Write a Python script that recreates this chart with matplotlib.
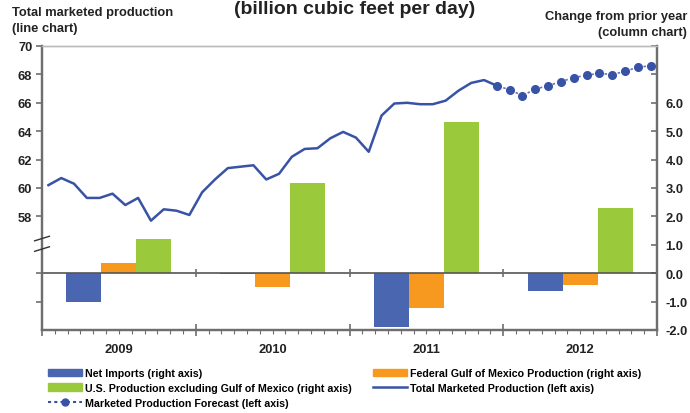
import numpy as np
import matplotlib.pyplot as plt
from matplotlib.patches import Patch
from matplotlib.lines import Line2D

plt.rcParams['font.family'] = ['Liberation Sans', 'DejaVu Sans']

years = ['2009', '2010', '2011', '2012']
net_imports = [-1.0, -0.03, -1.9, -0.64]
federal_gom = [0.35, -0.48, -1.23, -0.41]
us_ex_gom = [1.2, 3.17, 5.32, 2.28]

# monthly total marketed production, Jan 2009 - Dec 2011
total_marketed = [60.2, 60.7, 60.3, 59.3, 59.3, 59.6, 58.8, 59.3, 57.7, 58.5, 58.4, 58.1,
                  59.7, 60.6, 61.4, 61.5, 61.6, 60.6, 61.0, 62.2, 62.75, 62.8, 63.5, 63.95,
                  63.55, 62.55, 65.1, 65.95, 66.0, 65.9, 65.9, 66.15, 66.85, 67.4, 67.6, 67.2]
# forecast, Dec 2011 - Dec 2012
forecast = [67.2, 66.92, 66.5, 66.97, 67.2, 67.49, 67.77, 67.94, 68.08, 67.98, 68.22, 68.5, 68.61]

c_blue = '#4a66b0'
c_orange = '#f7991e'
c_green = '#9ac93c'
c_line = '#3852a6'
c_axis = '#6e6e6e'
c_text = '#222222'

fig = plt.figure(figsize=(6.9, 4.14), dpi=100)
ax = fig.add_axes([0.0609, 0.2005, 0.8913, 0.686])   # right axis (columns)
ax2 = ax.twinx()                                       # left axis (line)
ax2.yaxis.tick_left()
ax.yaxis.tick_right()
ax.set_zorder(1)
ax2.set_zorder(2)
ax2.patch.set_visible(False)

centers = np.arange(len(years)) * 12 + 6
w = 2.73
ax.bar(centers - w, net_imports, w, color=c_blue, zorder=3)
ax.bar(centers, federal_gom, w, color=c_orange, zorder=3)
ax.bar(centers + w, us_ex_gom, w, color=c_green, zorder=3)
ax.axhline(0, color='#555555', lw=1.2, zorder=4)
ax.vlines([12, 24, 36], -0.15, 0.15, color=c_axis, lw=1.2, zorder=4)

months = np.arange(len(total_marketed)) + 0.5
ax2.plot(months, total_marketed, color=c_line, lw=1.8)
fmonths = np.arange(len(forecast)) + 35.5
ax2.plot(fmonths, forecast, color=c_line, lw=1.2, ls=(0, (1.5, 2.5)), alpha=0.8)
ax2.plot(fmonths, forecast, 'o', color=c_line, ms=5.5)

ax.set_xlim(0, 48)
ax.set_ylim(-2, 8)
ax2.set_ylim(50, 70)

rt = np.arange(-2, 9, 1)
ax.set_yticks(rt)
ax.set_yticklabels(['%.1f' % v if v <= 6 else '' for v in rt],
                   fontsize=9.3, fontweight='bold', color=c_text)
ax.tick_params(axis='y', direction='in', length=4, color=c_axis, width=1.2, pad=6)

lt = [52, 54, 58, 60, 62, 64, 66, 68, 70]
ax2.set_yticks(lt)
ax2.set_yticklabels([str(v) if v >= 58 else '' for v in lt],
                    fontsize=9.3, fontweight='bold', color=c_text)
ax2.tick_params(axis='y', direction='out', length=4, color=c_axis, width=1.2, pad=3)

ax.set_xticks([0, 12, 24, 36, 48])
ax.set_xticklabels([])
ax.set_xticks(np.arange(0, 49, 1), minor=True)
ax.tick_params(axis='x', which='major', direction='inout', length=9, color=c_axis, width=1.2)
ax.tick_params(axis='x', which='minor', direction='out', length=3, color=c_axis, width=0.8)
for c, yr in zip(centers, years):
    ax.text(c, -0.068, yr, transform=ax.get_xaxis_transform(), ha='center', va='center',
            fontsize=9.3, fontweight='bold', color=c_text)

for a in (ax, ax2):
    for s in ('left', 'right', 'bottom'):
        a.spines[s].set_color(c_axis)
        a.spines[s].set_linewidth(1.6)
    a.spines['top'].set_color('#bbbbbb')
    a.spines['top'].set_linewidth(1.0)

# axis break on the left spine
for yb in (0.322, 0.285):
    ax2.plot([-0.012, 0.012], [yb - 0.008, yb + 0.008], transform=ax2.transAxes,
             color='#333333', lw=1.0, clip_on=False, zorder=10)

fig.text(355 / 690, 1 - 0.5 / 414, '(billion cubic feet per day)', ha='center', va='top',
         fontsize=14, fontweight='bold', color=c_text)
fig.text(12 / 690, 1 - 21 / 414, 'Total marketed production\n(line chart)', ha='left',
         va='center', fontsize=9.3, fontweight='bold', color=c_text, linespacing=1.35)
fig.text(687 / 690, 1 - 25 / 414, 'Change from prior year\n(column chart)', ha='right',
         va='center', fontsize=9.3, fontweight='bold', color=c_text, linespacing=1.4)

h_ni = Patch(color=c_blue, label='Net Imports (right axis)')
h_us = Patch(color=c_green, label='U.S. Production excluding Gulf of Mexico (right axis)')
h_fc = Line2D([], [], color=c_line, ls=(0, (1.5, 1.5)), marker='o', ms=5,
              markevery=[1], label='Marketed Production Forecast (left axis)')
h_fg = Patch(color=c_orange, label='Federal Gulf of Mexico Production (right axis)')
h_tm = Line2D([], [], color=c_line, lw=1.8, label='Total Marketed Production (left axis)')

legkw = dict(loc='upper left', frameon=False, borderpad=0, borderaxespad=0,
             handlelength=3.2, handleheight=0.7, handletextpad=0.3, labelspacing=0.45,
             prop={'weight': 'bold', 'size': 7.7})
fig.legend(handles=[h_ni, h_us, h_fc], bbox_to_anchor=(48 / 690, 1 - 369 / 414), **legkw)
fig.legend(handles=[h_fg, h_tm], bbox_to_anchor=(373 / 690, 1 - 369 / 414), **legkw)

fig.savefig('out.png', dpi=100)
